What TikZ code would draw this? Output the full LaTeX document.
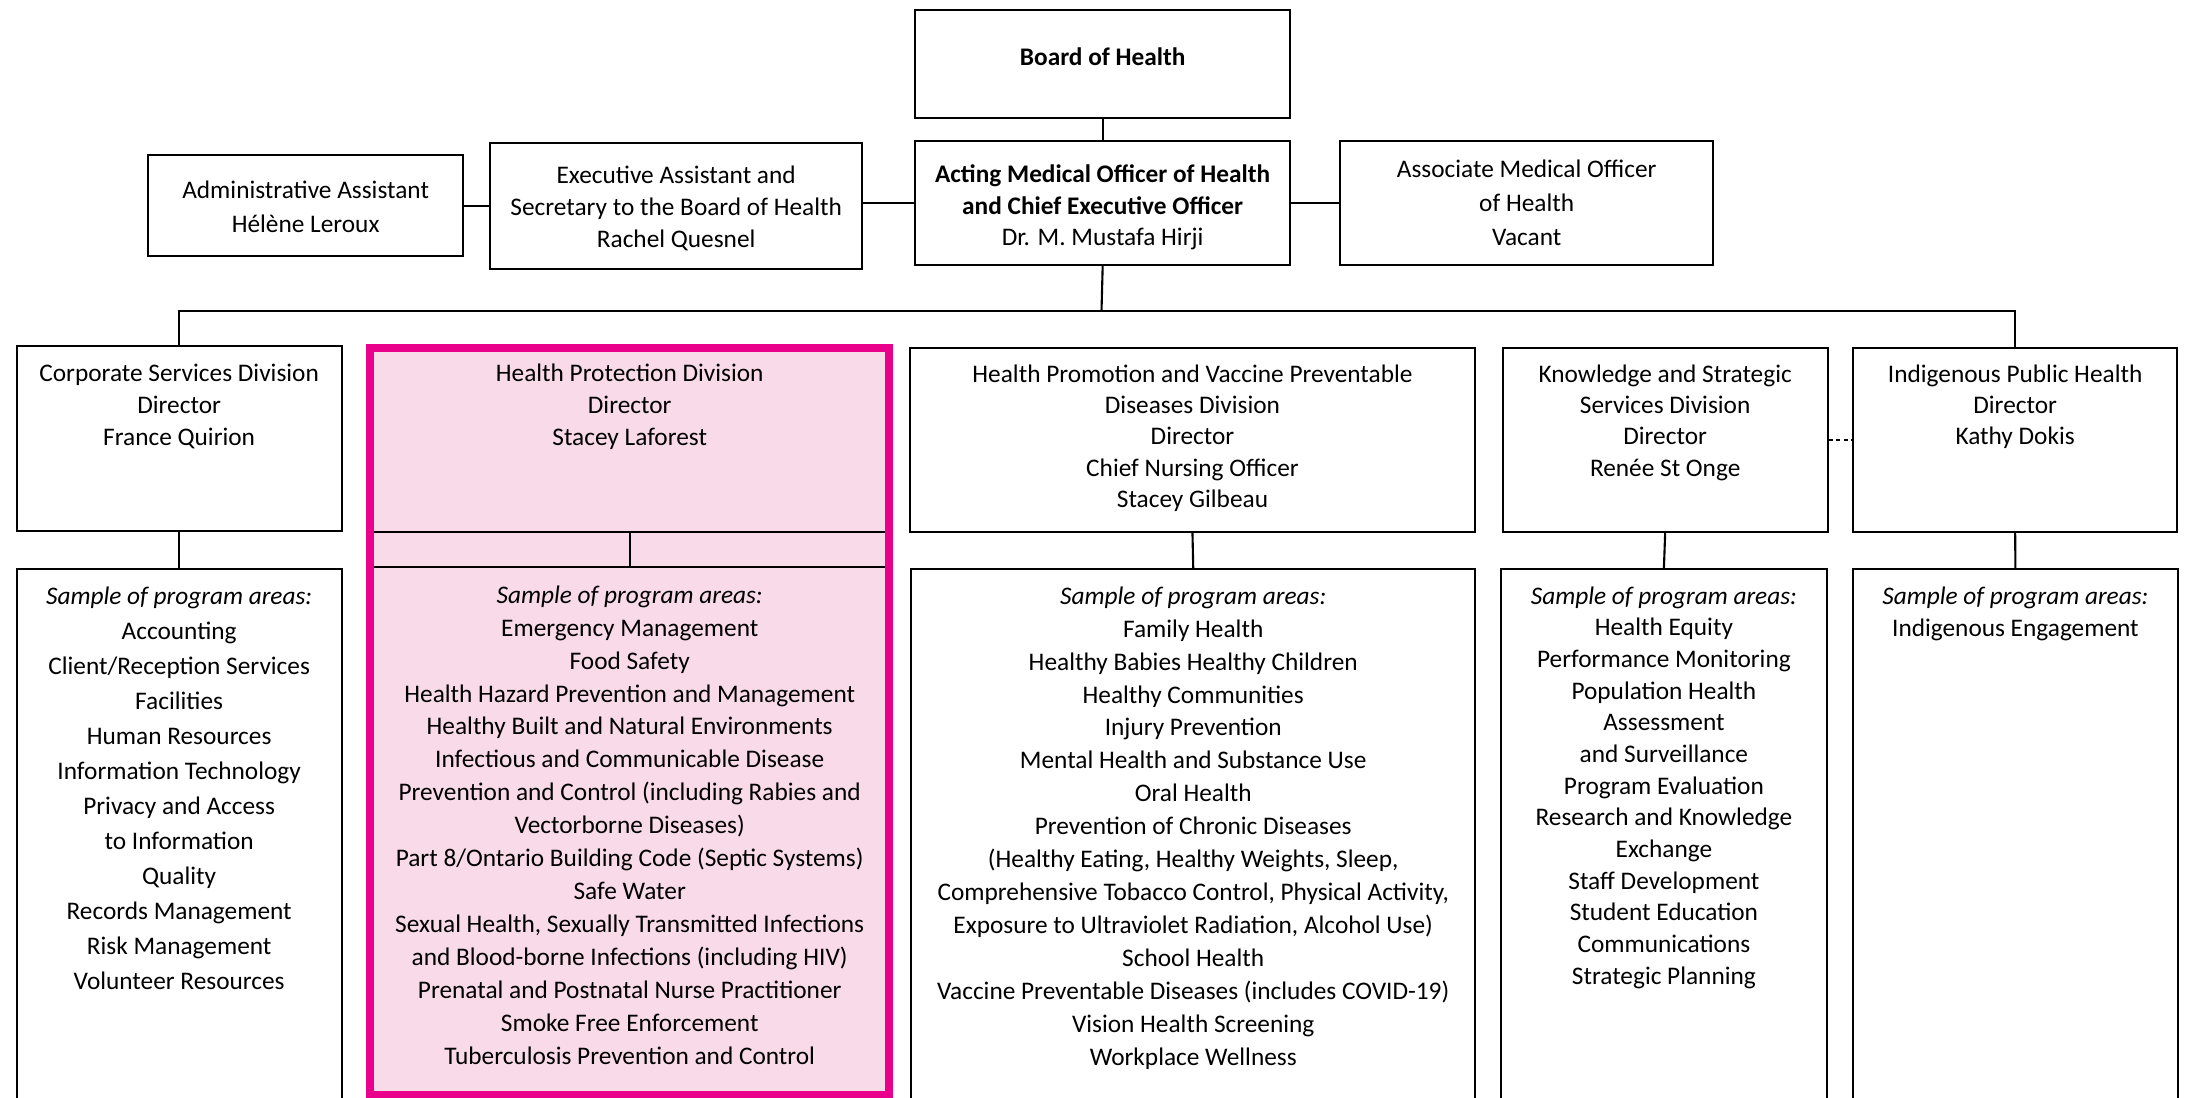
\documentclass[tikz,border=0pt]{standalone}
\usepackage{fontspec}
\setmainfont{Carlito}
\usetikzlibrary{positioning}

\definecolor{hpborder}{RGB}{233,0,139}
\definecolor{hpfill}{RGB}{249,218,232}

\tikzset{
  unit/.style={draw, line width=0.6pt, anchor=north west, inner sep=0pt},
  txt/.style={align=center, inner sep=0pt, font=\fontsize{7.2}{9}\selectfont},
  link/.style={line width=0.6pt},
}

\begin{document}
\begin{tikzpicture}[x=0.01cm, y=-0.01cm]
    \useasboundingbox (0,0) rectangle (2185,1097);
    \clip (0,0) rectangle (2185,1097);
    % board and officers
    \node [unit, minimum width=3.75cm, minimum height=1.08cm] (board) at (914,9) {};
    \node [txt, below=0.38cm of board.north] (boardtxt) {\textbf{Board of Health}};
    \node [unit, minimum width=3.15cm, minimum height=1.01cm] (admin) at (147,154) {};
    \node [txt, below=0.26cm of admin.north, font=\fontsize{7.2}{9.7}\selectfont] (admintxt)
          {Administrative Assistant\\Hélène Leroux};
    \node [unit, minimum width=3.72cm, minimum height=1.26cm] (exec) at (489,142) {};
    \node [txt, below=0.23cm of exec.north, font=\fontsize{7.2}{9.1}\selectfont] (exectxt)
          {Executive Assistant and\\Secretary to the Board of Health\\Rachel Quesnel};
    \node [unit, minimum width=3.75cm, minimum height=1.24cm] (moh) at (914,140) {};
    \node [txt, below=0.24cm of moh.north] (mohtxt)
          {\textbf{Acting Medical Officer of Health}\\\textbf{and Chief Executive Officer}\\Dr. M. Mustafa Hirji};
    \node [unit, minimum width=3.73cm, minimum height=1.24cm] (amoh) at (1339,140) {};
    \node [txt, below=0.19cm of amoh.north, font=\fontsize{7.2}{9.7}\selectfont] (amohtxt)
          {Associate Medical Officer\\of Health\\Vacant};
    % divisions
    \node [unit, minimum width=3.25cm, minimum height=1.85cm] (corp) at (15.5,345) {};
    \node [txt, below=0.18cm of corp.north, font=\fontsize{7.2}{9.1}\selectfont] (corptxt)
          {Corporate Services Division\\Director\\France Quirion};
    \node [anchor=north west, fill=hpfill, inner sep=0pt, minimum width=5.17cm, minimum height=7.45cm] (hpframe) at (370,348) {};
    \node [unit, minimum width=5.13cm, minimum height=1.83cm] (hpd) at (372,348) {};
    \node [txt, below=0.15cm of hpd.north, font=\fontsize{7.2}{9.1}\selectfont] (hpdtxt)
          {Health Protection Division\\Director\\Stacey Laforest};
    \node [unit, minimum width=5.645cm, minimum height=1.84cm] (hpvpd) at (909,347) {};
    \node [txt, below=0.17cm of hpvpd.north, font=\fontsize{7.2}{8.9}\selectfont] (hpvpdtxt)
          {Health Promotion and Vaccine Preventable\\Diseases Division\\Director\\Chief Nursing Officer\\Stacey Gilbeau};
    \node [unit, minimum width=3.25cm, minimum height=1.84cm] (kssd) at (1501.5,347) {};
    \node [txt, below=0.17cm of kssd.north, font=\fontsize{7.2}{8.9}\selectfont] (kssdtxt)
          {Knowledge and Strategic\\Services Division\\Director\\Renée St Onge};
    \node [unit, minimum width=3.24cm, minimum height=1.84cm] (iph) at (1852,347) {};
    \node [txt, below=0.17cm of iph.north, font=\fontsize{7.2}{8.9}\selectfont] (iphtxt)
          {Indigenous Public Health\\Director\\Kathy Dokis};
    % program areas
    \node [unit, minimum width=3.25cm, minimum height=5.6cm] (corpareas) at (15.5,568) {};
    \node [txt, below=0.18cm of corpareas.north, font=\fontsize{7.2}{9.96}\selectfont] (corpareastxt)
          {\textit{Sample of program areas:}\\Accounting\\Client/Reception Services\\Facilities\\Human Resources\\
           Information Technology\\Privacy and Access\\to Information\\Quality\\Records Management\\
           Risk Management\\Volunteer Resources};
    \node [unit, minimum width=5.13cm, minimum height=5.6cm] (hpdareas) at (372,566) {};
    \node [txt, below=0.19cm of hpdareas.north, font=\fontsize{7.2}{9.36}\selectfont] (hpdareastxt)
          {\textit{Sample of program areas:}\\Emergency Management\\Food Safety\\
           Health Hazard Prevention and Management\\Healthy Built and Natural Environments\\
           Infectious and Communicable Disease\\Prevention and Control (including Rabies and\\
           Vectorborne Diseases)\\Part 8/Ontario Building Code (Septic Systems)\\Safe Water\\
           Sexual Health, Sexually Transmitted Infections\\and Blood-borne Infections (including HIV)\\
           Prenatal and Postnatal Nurse Practitioner\\Smoke Free Enforcement\\
           Tuberculosis Prevention and Control};
    \node [unit, minimum width=5.64cm, minimum height=5.6cm] (hpvpdareas) at (910,568) {};
    \node [txt, below=0.18cm of hpvpdareas.north, font=\fontsize{7.2}{9.36}\selectfont] (hpvpdareastxt)
          {\textit{Sample of program areas:}\\Family Health\\Healthy Babies Healthy Children\\
           Healthy Communities\\Injury Prevention\\Mental Health and Substance Use\\Oral Health\\
           Prevention of Chronic Diseases\\(Healthy Eating, Healthy Weights, Sleep,\\
           Comprehensive Tobacco Control, Physical Activity,\\
           Exposure to Ultraviolet Radiation, Alcohol Use)\\School Health\\
           Vaccine Preventable Diseases (includes COVID-19)\\Vision Health Screening\\Workplace Wellness};
    \node [unit, minimum width=3.255cm, minimum height=5.6cm] (kssdareas) at (1500,568) {};
    \node [txt, below=0.18cm of kssdareas.north, font=\fontsize{7.2}{9.0}\selectfont] (kssdareastxt)
          {\textit{Sample of program areas:}\\Health Equity\\Performance Monitoring\\Population Health\\
           Assessment\\and Surveillance\\Program Evaluation\\Research and Knowledge\\Exchange\\
           Staff Development\\Student Education\\Communications\\Strategic Planning};
    \node [unit, minimum width=3.255cm, minimum height=5.6cm] (iphareas) at (1851.5,568) {};
    \node [txt, below=0.18cm of iphareas.north, font=\fontsize{7.2}{9.1}\selectfont] (iphareastxt)
          {\textit{Sample of program areas:}\\Indigenous Engagement};
    % links
    \draw [link] (board.south) -- (moh.north);
    \draw [link] (admin.east) -- (admin.east -| exec.west);
    \draw [link] (moh.west) -- (moh.west -| exec.east);
    \draw [link] (moh.east) -- (moh.east -| amoh.west);
    \coordinate (bus) at (1101.5,311);
    \draw [link] (moh.south) -- (bus);
    \draw [link] (corp.north) |- (bus) -| (iph.north);
    \draw [link] (corp.south) -- (corpareas.north);
    \draw [link] (hpd.south) -- (hpdareas.north);
    \draw [link] (hpvpd.south) -- (hpvpdareas.north);
    \draw [link] (kssd.south) -- (kssdareas.north);
    \draw [link] (iph.south) -- (iphareas.north);
    \draw [link, dash pattern=on 1.2pt off 0.9pt] (kssd.east) -- (iph.west);
    % highlight
    \draw [hpborder, line width=2.3pt] (hpframe.north west) rectangle (hpframe.south east);
\end{tikzpicture}
\end{document}
